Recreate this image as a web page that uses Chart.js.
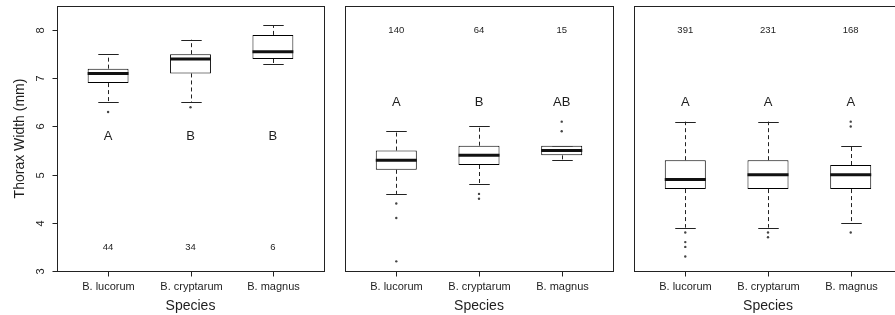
<!DOCTYPE html>
<html>
<head>
<meta charset="utf-8">
<script src="https://cdn.jsdelivr.net/npm/chart.js@4/dist/chart.umd.min.js"></script>
<style>
  html, body { margin:0; padding:0; background:#fff; }
  #wrap { position:relative; width:895px; height:315px; overflow:hidden; background:#fff; }
  canvas { position:absolute; top:0; }
</style>
</head>
<body>
<div id="wrap">
  <canvas id="c1" width="335" height="315" style="left:0px"></canvas>
  <canvas id="c2" width="290" height="315" style="left:335px"></canvas>
  <canvas id="c3" width="300" height="315" style="left:624px"></canvas>
</div>
<script>
// ---------- data ----------
const species = ['B. lucorum', 'B. cryptarum', 'B. magnus'];
const yTicks = [3, 4, 5, 6, 7, 8];
const yTitle = 'Thorax Width (mm)';
const xTitle = 'Species';

// Panel 1
const p1Low    = [6.5, 6.5, 7.3];
const p1Q1     = [6.9, 7.1, 7.4];
const p1Median = [7.1, 7.4, 7.55];
const p1Q3     = [7.2, 7.5, 7.9];
const p1High   = [7.5, 7.8, 8.1];
const p1Outliers = [[6.3], [6.4], []];
const p1Letters = ['A', 'B', 'B'];
const p1LetterY = 5.8;
const p1Counts = ['44', '34', '6'];
const p1CountY = 3.5;

// Panel 2
const p2Low    = [4.6, 4.8, 5.3];
const p2Q1     = [5.1, 5.2, 5.4];
const p2Median = [5.3, 5.4, 5.5];
const p2Q3     = [5.5, 5.6, 5.6];
const p2High   = [5.9, 6.0, 5.6];
const p2Outliers = [[4.4, 4.1, 3.2], [4.6, 4.5], [6.1, 5.9]];
const p2Letters = ['A', 'B', 'AB'];
const p2LetterY = 6.5;
const p2Counts = ['140', '64', '15'];
const p2CountY = 8.0;

// Panel 3
const p3Low    = [3.9, 3.9, 4.0];
const p3Q1     = [4.7, 4.7, 4.7];
const p3Median = [4.9, 5.0, 5.0];
const p3Q3     = [5.3, 5.3, 5.2];
const p3High   = [6.1, 6.1, 5.6];
const p3Outliers = [[3.8, 3.6, 3.5, 3.3], [3.8, 3.7], [3.8, 6.0, 6.1]];
const p3Letters = ['A', 'A', 'A'];
const p3LetterY = 6.5;
const p3Counts = ['391', '231', '168'];
const p3CountY = 8.0;

// ---------- drawing ----------
const FONT = "'Liberation Sans', Arial, Helvetica, sans-serif";
const LINE = '#222';
const TEXT = '#1e1e1e';

const boxPlugin = {
  id: 'boxExtras',
  beforeDatasetsDraw(chart) {
    const o = chart.options.plugins.boxExtras;
    const {ctx, scales:{x, y}} = chart;
    const meta = chart.getDatasetMeta(0);
    ctx.save();
    ctx.strokeStyle = LINE;
    ctx.lineWidth = 1;
    meta.data.forEach((bar, i) => {
      const cx = Math.round(bar.x) + 0.5;
      const w = bar.width;
      const yLo = y.getPixelForValue(o.low[i]);
      const yHi = y.getPixelForValue(o.high[i]);
      const yQ1 = y.getPixelForValue(o.q1[i]);
      const yQ3 = y.getPixelForValue(o.q3[i]);
      // dashed whiskers
      ctx.setLineDash([4, 3]);
      ctx.beginPath();
      ctx.moveTo(cx, yQ3); ctx.lineTo(cx, yHi);
      ctx.moveTo(cx, yQ1); ctx.lineTo(cx, yLo);
      ctx.stroke();
      ctx.setLineDash([]);
      // staples
      ctx.beginPath();
      const hl = w / 4;
      ctx.moveTo(cx - hl, Math.round(yHi) + 0.5); ctx.lineTo(cx + hl, Math.round(yHi) + 0.5);
      ctx.moveTo(cx - hl, Math.round(yLo) + 0.5); ctx.lineTo(cx + hl, Math.round(yLo) + 0.5);
      ctx.stroke();
    });
    ctx.restore();
  },
  afterDatasetsDraw(chart) {
    const o = chart.options.plugins.boxExtras;
    const {ctx, chartArea:a, scales:{x, y}} = chart;
    const meta = chart.getDatasetMeta(0);
    ctx.save();
    // medians
    ctx.strokeStyle = '#111';
    ctx.lineWidth = 3;
    meta.data.forEach((bar, i) => {
      const ym = y.getPixelForValue(o.median[i]);
      ctx.beginPath();
      ctx.moveTo(bar.x - bar.width / 2, ym);
      ctx.lineTo(bar.x + bar.width / 2, ym);
      ctx.stroke();
    });
    // letters and counts
    ctx.fillStyle = TEXT;
    ctx.textAlign = 'center';
    ctx.textBaseline = 'middle';
    species.forEach((s, i) => {
      const px = x.getPixelForValue(i + 1);
      ctx.font = '13px ' + FONT;
      ctx.fillText(o.letters[i], px, y.getPixelForValue(o.letterY));
      ctx.font = '9.5px ' + FONT;
      ctx.fillText(o.counts[i], px, y.getPixelForValue(o.countY));
    });
    ctx.restore();
  },
  afterDraw(chart) {
    const o = chart.options.plugins.boxExtras;
    const {ctx, chartArea:a, scales:{x, y}} = chart;
    ctx.save();
    ctx.strokeStyle = LINE;
    ctx.lineWidth = 1;
    // frame
    ctx.strokeRect(Math.round(a.left) + 0.5, Math.round(a.top) + 0.5,
                   Math.round(a.right - a.left), Math.round(a.bottom - a.top));
    // x ticks & labels
    ctx.fillStyle = TEXT;
    ctx.textAlign = 'center';
    ctx.textBaseline = 'middle';
    ctx.font = '11px ' + FONT;
    const b = Math.round(a.bottom) + 0.5;
    species.forEach((s, i) => {
      const px = Math.round(x.getPixelForValue(i + 1)) + 0.5;
      ctx.beginPath();
      ctx.moveTo(px, b); ctx.lineTo(px, b + 5);
      ctx.stroke();
      ctx.fillText(s, px, a.bottom + 16);
    });
    ctx.font = '14px ' + FONT;
    ctx.fillText(xTitle, (a.left + a.right) / 2, a.bottom + 35);
    // y axis (panel 1 only)
    if (o.yAxis) {
      const l = Math.round(a.left) + 0.5;
      ctx.font = '11px ' + FONT;
      yTicks.forEach(v => {
        const py = Math.round(y.getPixelForValue(v)) + 0.5;
        ctx.beginPath();
        ctx.moveTo(l - 5, py); ctx.lineTo(l, py);
        ctx.stroke();
        ctx.save();
        ctx.translate(a.left - 16, py);
        ctx.rotate(-Math.PI / 2);
        ctx.fillText(String(v), 0, 0);
        ctx.restore();
      });
      ctx.save();
      ctx.font = '14px ' + FONT;
      ctx.translate(a.left - 37, (a.top + a.bottom) / 2);
      ctx.rotate(-Math.PI / 2);
      ctx.fillText(yTitle, 0, 0);
      ctx.restore();
    }
    ctx.restore();
  }
};

function makePanel(id, padding, d, yAxis) {
  const boxes = species.map((s, i) => ({x: i + 1, y: [d.q1[i], d.q3[i]]}));
  const pts = [];
  d.outliers.forEach((arr, i) => arr.forEach(v => pts.push({x: i + 1, y: v})));
  return new Chart(document.getElementById(id), {
    type: 'bar',
    data: {
      datasets: [
        {
          type: 'bar',
          data: boxes,
          backgroundColor: '#ffffff',
          borderColor: '#000',
          borderWidth: 1,
          borderSkipped: false,
          barPercentage: 0.8,
          categoryPercentage: 1,
          order: 2
        },
        {
          type: 'scatter',
          data: pts,
          pointRadius: 1.2,
          pointBackgroundColor: '#444',
          pointBorderWidth: 0,
          order: 1
        }
      ]
    },
    options: {
      responsive: false,
      animation: false,
      events: [],
      layout: { padding },
      plugins: {
        legend: { display: false },
        tooltip: { enabled: false },
        boxExtras: Object.assign({ yAxis }, d)
      },
      scales: {
        x: { type: 'linear', min: 0.38, max: 3.62, display: false, offset: false },
        y: { type: 'linear', min: 3, max: 8.5, display: false }
      }
    },
    plugins: [boxPlugin]
  });
}

makePanel('c1', {left: 57, right: 11, top: 6, bottom: 44}, {
  low: p1Low, q1: p1Q1, median: p1Median, q3: p1Q3, high: p1High, outliers: p1Outliers,
  letters: p1Letters, letterY: p1LetterY, counts: p1Counts, countY: p1CountY
}, true);
makePanel('c2', {left: 10, right: 12, top: 6, bottom: 44}, {
  low: p2Low, q1: p2Q1, median: p2Median, q3: p2Q3, high: p2High, outliers: p2Outliers,
  letters: p2Letters, letterY: p2LetterY, counts: p2Counts, countY: p2CountY
}, false);
makePanel('c3', {left: 10, right: 22, top: 6, bottom: 44}, {
  low: p3Low, q1: p3Q1, median: p3Median, q3: p3Q3, high: p3High, outliers: p3Outliers,
  letters: p3Letters, letterY: p3LetterY, counts: p3Counts, countY: p3CountY
}, false);
</script>
</body>
</html>
